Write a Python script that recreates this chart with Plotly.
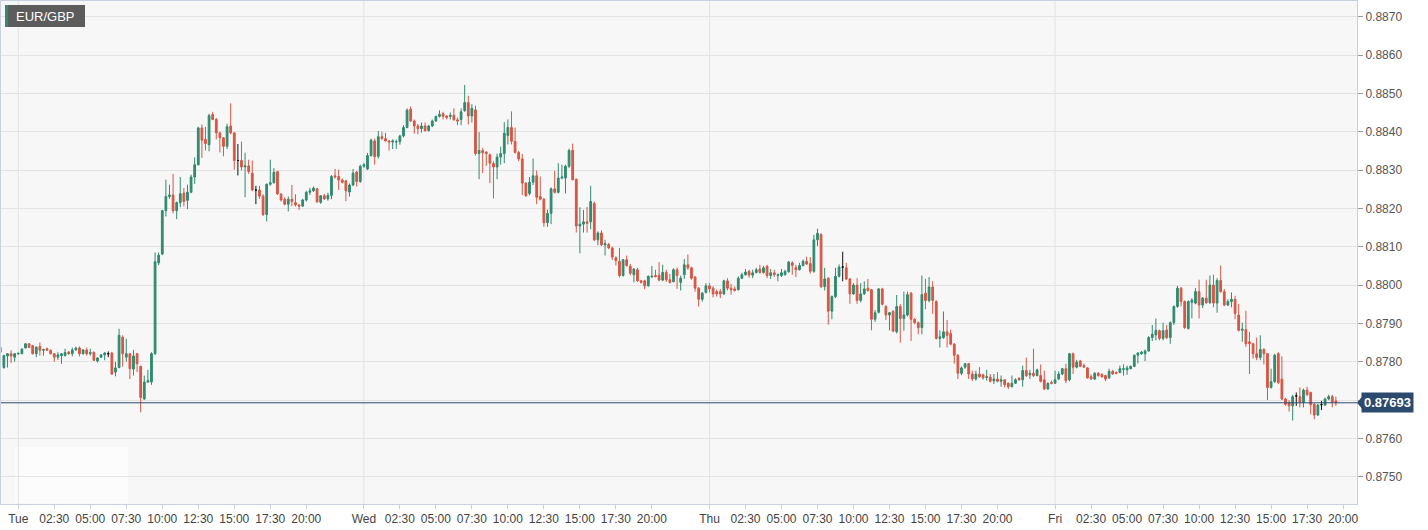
import pandas as pd
import plotly.graph_objects as go

# EUR/GBP 15-minute candles, prices in points (1 point = 0.00001)
start_time = "2019-09-30 22:45"
interval = "15min"
symbol = "EUR/GBP"
last_price = 0.87693

open_pts = [
87837,87785,87815,87821,87812,87821,87821,87836,87847,87842,87821,87840,87830,87834,87830,87821,87812,87816,87816,87825,
87821,87831,87836,87821,87831,87821,87825,87802,87812,87818,87821,87823,87773,87785,87864,87812,87821,87781,87821,87788,
87703,87747,87747,87821,88058,88081,88194,88231,88235,88194,88215,88240,88221,88242,88282,88314,88410,88380,88366,88445,
88432,88397,88384,88362,88415,88397,88325,88325,88308,88311,88292,88248,88248,88232,88184,88263,88267,88296,88237,88224,
88211,88224,88215,88209,88206,88222,88242,88246,88251,88216,88233,88225,88234,88285,88283,88274,88272,88243,88261,88295,
88270,88310,88303,88338,88376,88336,88387,88382,88376,88373,88373,88374,88389,88411,88459,88428,88415,88408,88415,88403,
88415,88428,88440,88447,88441,88440,88443,88431,88432,88455,88476,88441,88457,88343,88351,88347,88340,88317,88308,88334,
88343,88390,88411,88375,88346,88329,88266,88239,88268,88285,88231,88224,88163,88187,88251,88242,88279,88279,88310,88352,
88276,88154,88159,88165,88165,88213,88118,88136,88105,88106,88097,88071,88062,88025,88066,88049,88027,88040,88011,88011,
87998,88021,88025,88026,88013,88033,88014,88009,88040,88007,88027,88053,88045,88021,87992,87963,87981,87998,87992,87983,
87983,87977,88011,87992,87990,87988,88018,88027,88036,88026,88033,88042,88033,88049,88025,88032,88025,88025,88027,88035,
88058,88046,88040,88051,88062,88056,88036,88118,88132,87996,88018,87932,87970,88023,88047,88045,88016,87977,88000,87960,
87977,87992,87988,87911,87929,87990,87944,87922,87931,87878,87944,87913,87922,87979,87911,87902,87889,87979,87960,87995,
87957,87861,87863,87878,87874,87846,87817,87770,87786,87795,87768,87755,87768,87766,87759,87760,87750,87755,87749,87753,
87744,87735,87744,87757,87753,87777,87766,87770,87764,87764,87753,87729,87746,87744,87755,87768,87782,87753,87821,87786,
87802,87790,87784,87761,87755,87770,87767,87764,87758,87775,87772,87772,87780,87779,87782,87788,87817,87821,87821,87828,
87863,87870,87881,87861,87883,87863,87902,87944,87992,87957,87887,87955,87953,87983,87948,87966,87954,88000,87953,88012,
87983,87948,87957,87963,87922,87882,87884,87852,87847,87821,87811,87832,87821,87733,87748,87821,87755,87703,87694,87685,
87711,87709,87694,87726,87720,87689,87661,87688,87687,87703,87709,87698]

high_pts = [
87840,87818,87823,87830,87823,87824,87835,87848,87848,87844,87840,87850,87834,87837,87832,87822,87825,87823,87834,87828,
87837,87839,87840,87833,87837,87834,87826,87812,87820,87825,87827,87825,87800,87886,87869,87860,87823,87831,87823,87790,
87764,87779,87825,88085,88085,88196,88275,88262,88290,88218,88282,88253,88262,88288,88333,88413,88419,88413,88447,88452,
88436,88400,88386,88421,88474,88399,88368,88374,88345,88327,88325,88259,88259,88237,88265,88327,88305,88298,88240,88229,
88231,88261,88237,88211,88225,88246,88254,88257,88254,88235,88238,88241,88287,88303,88301,88278,88274,88265,88303,88298,
88314,88318,88345,88382,88382,88402,88400,88397,88378,88380,88380,88392,88417,88461,88466,88432,88420,88424,88424,88418,
88432,88442,88456,88452,88443,88450,88461,88437,88461,88522,88494,88472,88468,88399,88358,88349,88343,88323,88343,88361,
88425,88432,88453,88411,88350,88342,88268,88282,88330,88299,88283,88227,88197,88255,88298,88318,88314,88314,88356,88369,
88278,88203,88196,88204,88259,88218,88140,88143,88118,88110,88100,88075,88097,88068,88077,88055,88044,88045,88014,88014,
88025,88050,88040,88060,88053,88040,88029,88044,88046,88025,88068,88080,88048,88023,87995,87982,88005,88005,87997,87988,
87990,88014,88018,88003,87996,88023,88032,88042,88040,88040,88045,88053,88050,88053,88042,88040,88030,88042,88040,88063,
88062,88053,88058,88067,88074,88073,88131,88147,88135,88045,88020,87973,88045,88054,88087,88058,88018,88005,88018,88005,
88010,88016,87990,87935,87992,87993,87948,87930,87935,87974,87950,87983,87983,87982,87914,87905,88025,88016,88021,88010,
87960,87882,87931,87909,87884,87849,87820,87788,87797,87797,87777,87777,87786,87769,87779,87768,87768,87773,87764,87755,
87746,87764,87757,87760,87790,87811,87779,87834,87782,87793,87777,87746,87751,87777,87775,87784,87795,87823,87824,87805,
87805,87795,87786,87767,87773,87773,87770,87766,87782,87779,87775,87790,87793,87790,87790,87819,87825,87828,87832,87867,
87896,87913,87884,87902,87896,87905,87947,87998,87995,87960,87960,87966,87992,88014,87969,88014,88025,88027,88018,88051,
87990,87963,87981,87972,87951,87902,87933,87878,87850,87863,87869,87835,87823,87782,87821,87825,87814,87706,87700,87714,
87720,87733,87730,87735,87722,87692,87690,87698,87706,87714,87714,87709]

low_pts = [
87822,87782,87785,87797,87800,87818,87820,87835,87836,87819,87812,87816,87816,87828,87819,87800,87805,87795,87814,87818,
87814,87829,87814,87819,87816,87816,87802,87798,87810,87804,87812,87766,87762,87783,87787,87800,87755,87764,87773,87668,
87701,87745,87740,87818,88052,88078,88179,88225,88187,88172,88203,88205,88198,88240,88264,88312,88332,88351,88349,88430,
88380,88346,88336,88355,88393,88301,88286,88299,88229,88290,88245,88211,88225,88180,88166,88259,88265,88235,88218,88208,
88192,88206,88205,88196,88204,88218,88235,88243,88215,88212,88222,88220,88224,88278,88248,88265,88219,88231,88258,88257,
88267,88306,88300,88335,88314,88330,88379,88374,88351,88355,88355,88366,88385,88409,88426,88395,88393,88398,88400,88401,
88412,88426,88437,88432,88432,88432,88429,88417,88417,88452,88419,88424,88338,88276,88292,88311,88266,88226,88276,88314,
88318,88367,88367,88343,88323,88235,88230,88234,88261,88211,88221,88152,88152,88159,88239,88239,88276,88239,88305,88273,
88137,88083,88137,88137,88146,88115,88104,88102,88077,88094,88066,88051,88020,88022,88048,88026,88007,88008,88004,87989,
87996,88020,88020,88010,88010,88008,88004,88007,87990,87986,88016,88040,88014,87983,87944,87957,87978,87981,87968,87970,
87966,87975,87986,87975,87983,87986,88016,88025,88019,88018,88030,88030,88030,88018,88016,88021,88010,88021,88025,88032,
88027,88021,88038,88049,88052,88030,88032,88102,87992,87986,87897,87911,87966,88020,88010,88013,87951,87975,87951,87955,
87975,87983,87882,87904,87926,87947,87909,87882,87877,87874,87850,87881,87918,87854,87898,87872,87872,87937,87955,87925,
87858,87837,87860,87837,87843,87795,87755,87765,87782,87755,87750,87751,87758,87753,87751,87746,87742,87746,87735,87733,
87729,87733,87742,87751,87735,87760,87755,87760,87762,87746,87726,87727,87741,87742,87753,87765,87744,87749,87768,87783,
87786,87784,87756,87753,87752,87761,87758,87749,87755,87766,87767,87770,87764,87766,87780,87786,87796,87818,87802,87826,
87854,87856,87856,87856,87859,87847,87896,87941,87944,87886,87884,87913,87950,87913,87940,87951,87951,87942,87928,87980,
87945,87945,87942,87911,87879,87852,87839,87768,87808,87804,87804,87793,87700,87730,87745,87742,87700,87685,87670,87647,
87685,87681,87681,87711,87663,87650,87659,87674,87685,87700,87681,87685]

close_pts = [
87825,87816,87821,87815,87821,87822,87833,87847,87837,87821,87838,87830,87832,87830,87821,87812,87818,87821,87824,87821,
87831,87836,87821,87831,87821,87824,87804,87810,87818,87823,87821,87768,87784,87869,87821,87821,87782,87815,87795,87707,
87747,87751,87821,88061,88078,88194,88231,88235,88194,88215,88238,88218,88242,88282,88314,88410,88378,88369,88442,88432,
88397,88384,88362,88413,88397,88325,88325,88308,88311,88296,88248,88248,88232,88184,88263,88267,88294,88238,88222,88211,
88224,88218,88209,88206,88222,88242,88246,88253,88217,88233,88225,88234,88283,88282,88274,88268,88246,88261,88292,88270,
88310,88314,88338,88378,88335,88387,88382,88376,88373,88376,88374,88389,88411,88456,88428,88415,88408,88415,88403,88415,
88428,88440,88445,88440,88437,88443,88431,88428,88452,88476,88441,88461,88343,88351,88345,88343,88318,88308,88334,88343,
88396,88411,88375,88346,88329,88266,88233,88268,88285,88229,88224,88163,88187,88251,88242,88279,88282,88310,88351,88275,
88154,88159,88165,88161,88218,88118,88136,88105,88108,88097,88073,88064,88025,88066,88051,88031,88042,88011,88007,87998,
88023,88023,88022,88013,88033,88014,88007,88040,88025,88018,88053,88045,88018,87992,87963,87979,87998,87990,87977,87977,
87977,88011,87992,87988,87986,88018,88027,88034,88026,88032,88040,88033,88045,88025,88032,88027,88027,88032,88036,88060,
88051,88040,88051,88062,88055,88036,88118,88135,87996,88016,87932,87970,88023,88047,88047,88016,87977,88000,87960,87977,
87990,87986,87911,87928,87990,87950,87922,87928,87880,87944,87913,87922,87975,87911,87902,87889,87975,87960,87995,87960,
87861,87865,87878,87869,87846,87817,87770,87784,87795,87768,87755,87768,87761,87758,87761,87749,87755,87749,87753,87740,
87735,87744,87753,87753,87777,87764,87770,87764,87779,87749,87729,87744,87744,87753,87768,87782,87751,87821,87786,87799,
87788,87786,87758,87755,87770,87764,87761,87755,87775,87768,87770,87782,87782,87784,87788,87817,87823,87825,87828,87863,
87872,87882,87861,87881,87863,87902,87944,87992,87957,87889,87957,87961,87983,87948,87966,87954,88000,87953,88012,87983,
87948,87957,87963,87926,87882,87885,87847,87847,87821,87811,87832,87821,87733,87748,87817,87746,87703,87689,87685,87709,
87711,87694,87726,87714,87688,87661,87687,87688,87703,87709,87694,87693]

day_names = ["Tue", "Wed", "Thu", "Fri"]
day_dates = ["2019-10-01", "2019-10-02", "2019-10-03", "2019-10-04"]
tick_times = ["00:00", "02:30", "05:00", "07:30", "10:00", "12:30", "15:00", "17:30", "20:00"]
y_ticks = [0.8750, 0.8760, 0.8770, 0.8780, 0.8790, 0.8800, 0.8810, 0.8820, 0.8830, 0.8840, 0.8850, 0.8860, 0.8870]

UP = "#2f8a6f"
DOWN = "#d85644"
DOJI = "#111111"
BLUE = "#2c4a6e"
FONT = "Liberation Sans, Arial, sans-serif"

W, H = 1428, 530
ML, MR, MT, MB = 1, 71, 1, 26
PW, PH = W - ML - MR, H - MT - MB


def px_x(x):
    return (x - ML) / PW


def px_y(y):
    return 1 - (y - MT) / PH


n = len(close_pts)
times = pd.date_range(start_time, periods=n, freq=interval)
o = [v / 1e5 for v in open_pts]
h = [v / 1e5 for v in high_pts]
l = [v / 1e5 for v in low_pts]
c = [v / 1e5 for v in close_pts]

normal = [i for i in range(n) if open_pts[i] != close_pts[i]]
doji = [i for i in range(n) if open_pts[i] == close_pts[i]]


def sub(arr, idx):
    return [arr[i] for i in idx]


fig = go.Figure()
fig.add_trace(go.Candlestick(
    x=sub(times, normal), open=sub(o, normal), high=sub(h, normal),
    low=sub(l, normal), close=sub(c, normal),
    increasing=dict(line=dict(color=UP, width=1), fillcolor=UP),
    decreasing=dict(line=dict(color=DOWN, width=1), fillcolor=DOWN),
    whiskerwidth=0, showlegend=False, hoverinfo="skip"))
fig.add_trace(go.Candlestick(
    x=sub(times, doji), open=sub(o, doji), high=sub(h, doji),
    low=sub(l, doji), close=sub(c, doji),
    increasing=dict(line=dict(color=DOJI, width=1), fillcolor=DOJI),
    decreasing=dict(line=dict(color=DOJI, width=1), fillcolor=DOJI),
    whiskerwidth=0, showlegend=False, hoverinfo="skip"))

tickvals, ticktext = [], []
for name, d in zip(day_names, day_dates):
    for t in tick_times:
        tickvals.append(pd.Timestamp(f"{d} {t}"))
        ticktext.append(name if t == "00:00" else t)

# the 0.8770 label sits under the price tag in the original
y_text = ["" if abs(v - 0.8770) < 1e-9 else "%.4f" % v for v in y_ticks]

shapes = []
# faint lighter panel in the bottom-left corner
shapes.append(dict(type="rect", xref="paper", yref="paper", x0=px_x(15), x1=px_x(128),
                   y0=px_y(503), y1=px_y(447), fillcolor="#fcfcfc", line=dict(width=0), layer="below"))
for d in day_dates:
    shapes.append(dict(type="line", xref="x", yref="paper", x0=d, x1=d, y0=0, y1=1,
                       line=dict(color="#e3e3e3", width=1), layer="below"))
# current price line
shapes.append(dict(type="line", xref="paper", yref="y", x0=0, x1=1, y0=last_price, y1=last_price,
                   line=dict(color=BLUE, width=1)))
# price tag arrow
shapes.append(dict(type="path", xref="paper", yref="y", xsizemode="pixel", ysizemode="pixel",
                   xanchor=1, yanchor=last_price, path="M 0 0 L 5 6 L 5 -6 Z",
                   fillcolor=BLUE, line=dict(width=0)))
# symbol tag box and green stripe
shapes.append(dict(type="rect", xref="paper", yref="paper", x0=px_x(5), x1=px_x(85),
                   y0=px_y(27), y1=px_y(5), fillcolor="#5c5c5c", line=dict(width=0)))
shapes.append(dict(type="rect", xref="paper", yref="paper", x0=px_x(5), x1=px_x(8),
                   y0=px_y(27), y1=px_y(5), fillcolor=UP, line=dict(width=0)))

annotations = [
    dict(xref="paper", yref="paper", x=px_x(45), y=px_y(16), xanchor="center", yanchor="middle",
         text=symbol, showarrow=False, font=dict(color="white", size=13, family=FONT)),
    dict(xref="paper", yref="y", x=1, y=last_price, xanchor="left", yanchor="middle",
         xshift=4, text="<b>%.5f</b>" % last_price, showarrow=False, bgcolor=BLUE,
         borderpad=2, font=dict(color="white", size=13, family=FONT)),
]

fig.update_layout(
    width=W, height=H,
    margin=dict(l=ML, r=MR, t=MT, b=MB),
    paper_bgcolor="white", plot_bgcolor="#f7f7f7",
    font=dict(family=FONT, size=12, color="#555555"),
    shapes=shapes, annotations=annotations,
    showlegend=False,
    xaxis=dict(type="date", range=[pd.Timestamp("2019-09-30 22:48"), pd.Timestamp("2019-10-04 20:58")],
               rangeslider=dict(visible=False), tickvals=tickvals, ticktext=ticktext,
               showgrid=False, ticks="outside", ticklen=4, tickcolor="#c9d0e2",
               showline=True, linecolor="#c9d0e2", mirror=True, zeroline=False,
               tickfont=dict(size=12, color="#444444")),
    yaxis=dict(side="right", range=[0.87429, 0.88741], tickvals=y_ticks, ticktext=y_text,
               showgrid=True, gridcolor="#e3e3e3", gridwidth=1, ticks="outside", ticklen=5,
               tickcolor="#999999", showline=True, linecolor="#c9d0e2", mirror=True,
               zeroline=False, tickfont=dict(size=12, color="#555555")),
)

fig.write_html("out.html", config={"displayModeBar": False},
               post_script="document.body.style.margin='0';")
